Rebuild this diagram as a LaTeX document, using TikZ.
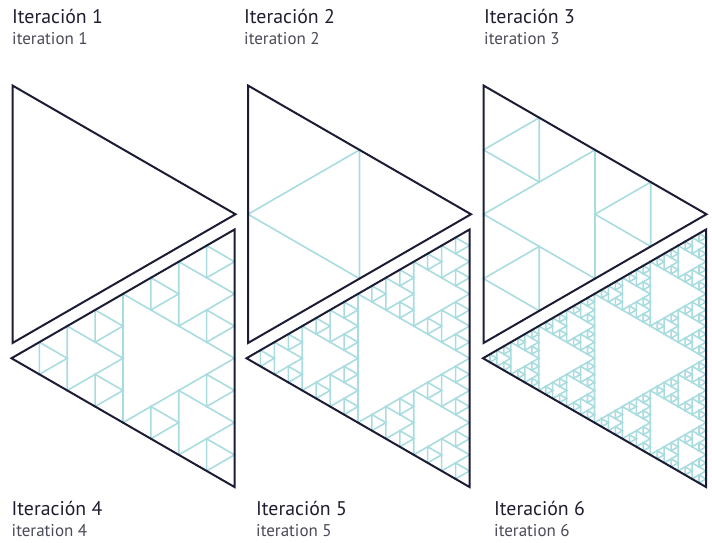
\documentclass[tikz,border=0pt]{standalone}
\usepackage{fontspec}
\setmainfont{PT Sans}
\definecolor{outl}{HTML}{1C1C34}
\definecolor{subl}{HTML}{A9DCDF}
\definecolor{ttl}{HTML}{1E1E30}
\definecolor{stl}{HTML}{4A4A58}
\newcommand\sierp[7]{%
  \ifnum#1>0
    \begingroup
    \pgfmathsetmacro\sax{(#2+#4)/2}\pgfmathsetmacro\say{(#3+#5)/2}%
    \pgfmathsetmacro\sbx{(#4+#6)/2}\pgfmathsetmacro\sby{(#5+#7)/2}%
    \pgfmathsetmacro\scx{(#6+#2)/2}\pgfmathsetmacro\scy{(#7+#3)/2}%
    \draw[subline] (\sax,\say) -- (\sbx,\sby) -- (\scx,\scy) -- cycle;
    \pgfmathtruncatemacro\sdepth{#1-1}%
    \edef\snext{\noexpand\sierp{\sdepth}{#2}{#3}{\sax}{\say}{\scx}{\scy}%
      \noexpand\sierp{\sdepth}{\sax}{\say}{#4}{#5}{\sbx}{\sby}%
      \noexpand\sierp{\sdepth}{\scx}{\scy}{\sbx}{\sby}{#6}{#7}}%
    \snext
    \endgroup
  \fi}
% right-pointing: depth, left x
\newcommand\rtri[2]{%
  \pgfmathsetmacro\rx{#2+223}%
  \sierp{#1}{#2}{85.5}{#2}{343}{\rx}{214.25}%
  \draw[outline] (#2,85.5) -- (#2,343) -- (\rx,214.25) -- cycle;}
% left-pointing: depth, right x
\newcommand\ltri[2]{%
  \pgfmathsetmacro\lx{#2-223}%
  \sierp{#1}{#2}{229.5}{#2}{487}{\lx}{358.25}%
  \draw[outline] (#2,229.5) -- (#2,487) -- (\lx,358.25) -- cycle;}
\begin{document}
\begin{tikzpicture}[x=1pt,y=-1pt,
  outline/.style={draw=outl,line width=2pt,line join=miter},
  subline/.style={draw=subl,line width=1.6pt},
  ttext/.style={anchor=base west,inner sep=0pt,text=ttl,font=\fontsize{19.8}{21}\selectfont},
  stext/.style={anchor=base west,inner sep=0pt,text=stl,font=\fontsize{17}{19}\selectfont}]
\useasboundingbox (0,0) rectangle (712,542);
\rtri{0}{12.5}
\rtri{1}{248}
\rtri{2}{483.5}
\ltri{3}{234.5}
\ltri{4}{469.5}
\ltri{5}{706}
\node[ttext] (t1) at (12,23) {Iteración 1};
\node[stext] (s1) at (12,44.5) {iteration 1};
\node[ttext] (t2) at (244,23) {Iteración 2};
\node[stext] (s2) at (244,44.5) {iteration 2};
\node[ttext] (t3) at (484,23) {Iteración 3};
\node[stext] (s3) at (484,44.5) {iteration 3};
\node[ttext] (t4) at (11.5,515.5) {Iteración 4};
\node[stext] (s4) at (11.5,536.5) {iteration 4};
\node[ttext] (t5) at (256,515.5) {Iteración 5};
\node[stext] (s5) at (256,536.5) {iteration 5};
\node[ttext] (t6) at (494,515.5) {Iteración 6};
\node[stext] (s6) at (494,536.5) {iteration 6};
\end{tikzpicture}
\end{document}
